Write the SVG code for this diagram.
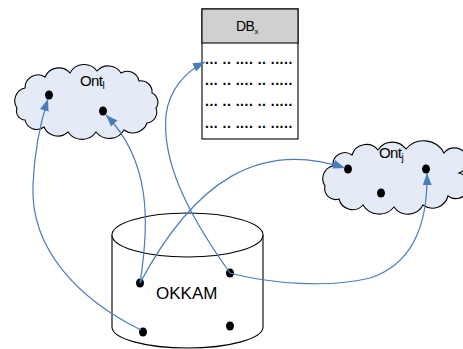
<svg xmlns="http://www.w3.org/2000/svg" width="463" height="349" viewBox="0 0 463 349">
<style>
.cloud{fill:#e4ebf6;stroke:#000;stroke-width:1.1}
.box{fill:#fff;stroke:#000;stroke-width:1.1}
.hdr{fill:#d0d0d0;stroke:#000;stroke-width:1.1}
.dot{fill:#000}
.lbl{font-family:"Liberation Sans",Arial,sans-serif;fill:#000}
.rows{font-family:"Liberation Sans",Arial,sans-serif;font-weight:bold;font-size:14px;letter-spacing:0.5px;fill:#000}
.conn{fill:none;stroke:#4a7ebb;stroke-width:1.2;marker-end:url(#ah)}
</style>
<defs>
<marker id="ah" markerUnits="userSpaceOnUse" markerWidth="13" markerHeight="9" refX="12" refY="4.5" orient="auto">
<path d="M0,0 L12,4.5 L0,9 z" fill="#4a7ebb"/>
</marker>
</defs>
<rect width="463" height="349" fill="#fff"/>
<g id="db">
<rect class="box" x="202" y="9" width="96" height="130"/>
<rect class="hdr" x="202" y="9" width="96" height="34"/>
<text class="lbl" x="236" y="31" font-size="14" letter-spacing="-0.5">DB<tspan font-size="8" dy="3">x</tspan></text>
<text class="rows" x="205" y="64">... .. .... .. .....</text>
<text class="rows" x="205" y="85">... .. .... .. .....</text>
<text class="rows" x="205" y="106">... .. .... .. .....</text>
<text class="rows" x="205" y="128">... .. .... .. .....</text>
</g>
<g id="ont-l">
<path class="cloud" d="M17,108 A13,13 0 0 1 25,88 A13,13 0 0 1 45,77 A15,15 0 0 1 70,73 A16,16 0 0 1 97,71 A15,15 0 0 1 121,73 A12,12 0 0 1 139,81 A11,11 0 0 1 152,93 A10,10 0 0 1 156,108 A11,11 0 0 1 147,123 A15,15 0 0 1 124,130 A17,17 0 0 1 96,132 A17,17 0 0 1 68,132 A15,15 0 0 1 44,127 A12,12 0 0 1 25,120 A9,9 0 0 1 17,108 Z"/>
<text class="lbl" x="80" y="86" font-size="15" letter-spacing="-0.6">Ont<tspan font-size="10" dy="3">l</tspan></text>
<ellipse class="dot" cx="49" cy="95" rx="4" ry="4.5"/>
<ellipse class="dot" cx="103" cy="111" rx="4" ry="4.5"/>
</g>
<g id="ont-j">
<path class="cloud" d="M325,186 A13,13 0 0 1 333,166 A12,12 0 0 1 352,155 A15,15 0 0 1 378,150 A17,17 0 0 1 406,149 A23,23 0 0 1 444,153 A13,13 0 1 1 459,173 A13,13 0 1 1 448,196 A16,16 0 0 1 423,205 A17,17 0 0 1 394,207 A19,19 0 0 1 363,205 A14,14 0 0 1 339,199 A11,11 0 0 1 325,186 Z"/>
<text class="lbl" x="379" y="158" font-size="15" letter-spacing="-0.6">Ont<tspan font-size="10" dy="3">j</tspan></text>
<ellipse class="dot" cx="348" cy="169" rx="4" ry="4.5"/>
<ellipse class="dot" cx="426" cy="169" rx="4" ry="4.5"/>
<ellipse class="dot" cx="381" cy="193" rx="4" ry="4.5"/>
</g>
<g id="okkam">
<path class="box" d="M112,235 L112,327 A75.5,21 0 0 0 263,327 L263,235"/>
<ellipse class="box" cx="187.5" cy="235" rx="75.5" ry="22"/>
<text class="lbl" x="156" y="299" font-size="17">OKKAM</text>
<ellipse class="dot" cx="140" cy="283" rx="4" ry="4.5"/>
<ellipse class="dot" cx="230" cy="273" rx="4" ry="4.5"/>
<ellipse class="dot" cx="143" cy="332" rx="4" ry="4.5"/>
<ellipse class="dot" cx="230" cy="326" rx="4" ry="4.5"/>
</g>
<g id="connectors">
<path class="conn" d="M141,330 C80,300 30,250 33,185 C34,160 38,130 48,99"/>
<path class="conn" d="M140,283 C150,220 150,160 106,115"/>
<path class="conn" d="M140,283 C195,180 260,140 345,168"/>
<path class="conn" d="M230,273 C185,210 162,160 166,115 C169,90 185,72 205,62"/>
<path class="conn" d="M230,273 C270,284 330,288 370,278 C410,265 428,230 427,173"/>
</g>
</svg>
